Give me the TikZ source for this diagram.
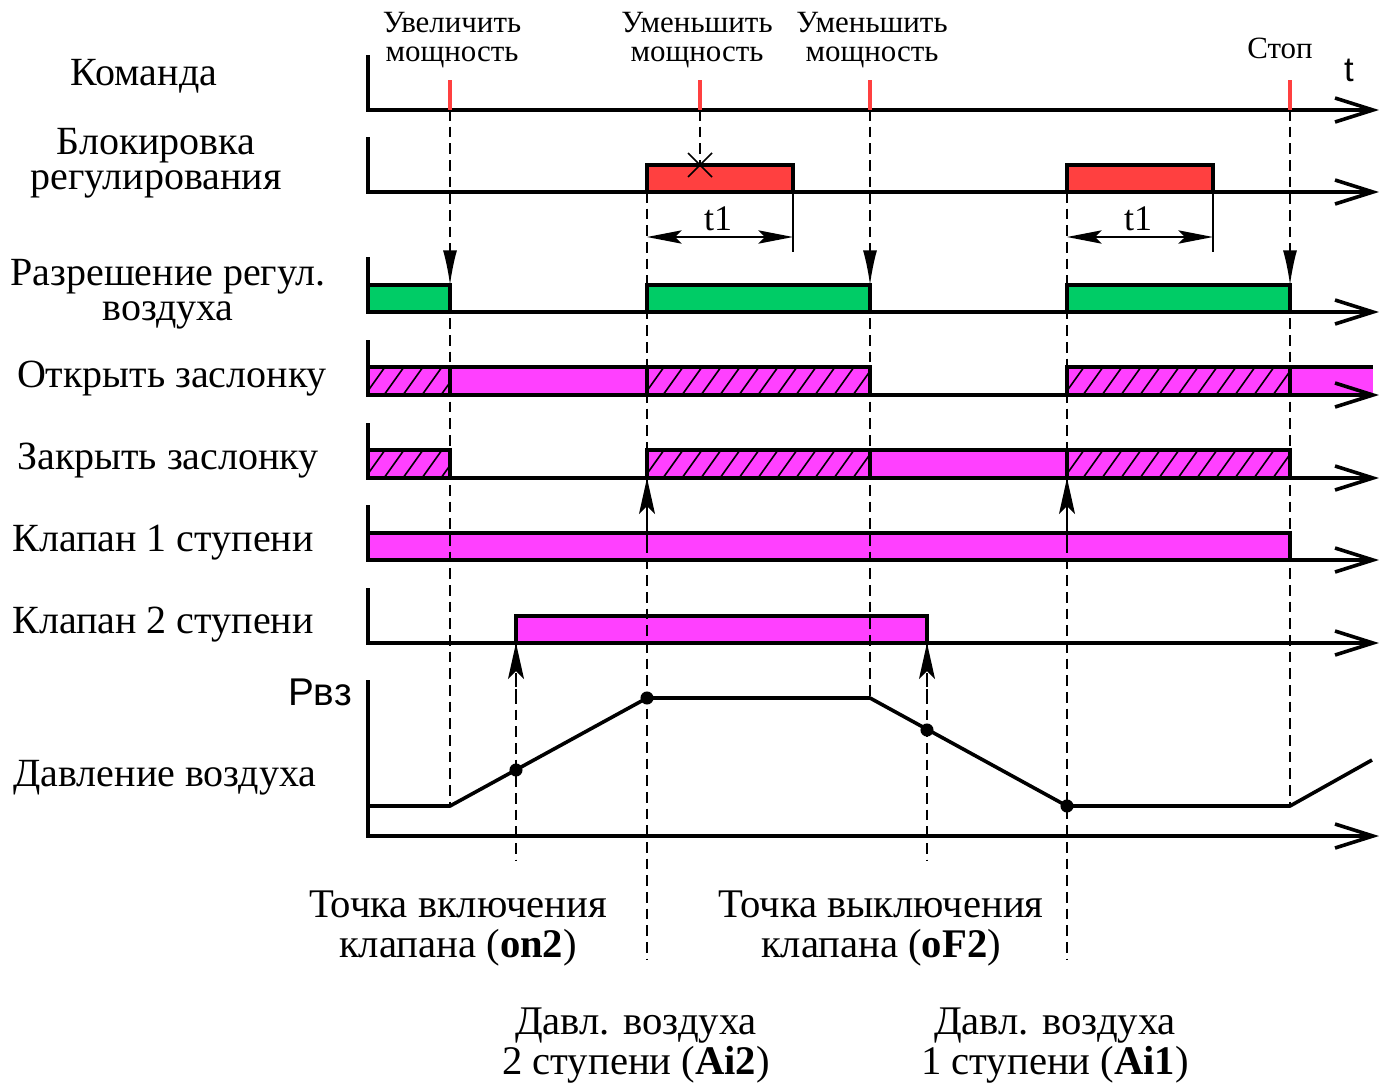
\documentclass[tikz,border=0pt]{standalone}
\usepackage{fontspec}
\setmainfont{Liberation Serif}
\newfontfamily\arialf{Liberation Sans}
\usetikzlibrary{arrows.meta}
\definecolor{barred}{HTML}{FF4040}
\definecolor{bargreen}{HTML}{00CC66}
\definecolor{barmag}{HTML}{FF40FF}
\newcommand\hatchseg[3]{% x1, x2, base
  \begin{scope}
    \clip (#1,#3) rectangle (#2,#3-28);
    \pgfmathtruncatemacro\nh{(#2-#1)/19+2}
    \foreach \k in {0,...,\nh} {
      \draw[hatchline] (#1-22+19*\k,#3) -- (#1-2+19*\k,#3-28);
    }
  \end{scope}}
\newcommand\axisrow[2]{% top, base
  \draw[axis] (368,#1) -- (368,#2) -- (1373,#2);
  \draw[axis] (1335,#2-12) -- (1373,#2) -- (1335,#2+12);}
\begin{document}
\begin{tikzpicture}[x=0.75pt,y=-0.75pt,
  axis/.style={line width=2.7pt, line join=miter, line cap=butt},
  barline/.style={line width=2.7pt},
  hatchline/.style={line width=1.2pt},
  guide/.style={line width=1.3pt, dash pattern=on 8pt off 4.5pt},
  thinline/.style={line width=1.25pt},
  lbl/.style={inner sep=0pt, align=center, font=\fontsize{30}{26.25}\selectfont},
  tlbl/.style={inner sep=0pt, font=\fontsize{27}{27}\selectfont},
  toplbl/.style={inner sep=0pt, align=center, font=\fontsize{23.2}{21.75}\selectfont},
  botlbl/.style={inner sep=0pt, align=center, font=\fontsize{30.5}{30}\selectfont},
  downtip/.style={-{Latex[length=26pt,width=10.5pt]}},
  uptip/.style={-{Stealth[length=27pt,width=12pt,inset=6pt]}},
  dimtip/.style={{Stealth[length=26pt,width=10pt,inset=5pt]}-{Stealth[length=26pt,width=10pt,inset=5pt]}}
]
\useasboundingbox (0,0) rectangle (1384,1086);

% ---------- bars: fills ----------
\fill[barred] (647,192) rectangle (793,165);
\fill[barred] (1067,192) rectangle (1213,165);
\fill[bargreen] (368,312) rectangle (450,285);
\fill[bargreen] (647,312) rectangle (870,285);
\fill[bargreen] (1067,312) rectangle (1290,285);
\fill[barmag] (368,395) rectangle (870,367);
\fill[barmag] (1067,395) rectangle (1373,367);
\fill[barmag] (368,478) rectangle (450,450);
\fill[barmag] (647,478) rectangle (1290,450);
\fill[barmag] (368,560) rectangle (1290,533);
\fill[barmag] (516,643) rectangle (927,616);

% ---------- hatching ----------
\hatchseg{368}{450}{395}
\hatchseg{647}{870}{395}
\hatchseg{1067}{1290}{395}
\hatchseg{368}{450}{478}
\hatchseg{647}{870}{478}
\hatchseg{1067}{1290}{478}

% ---------- bar outlines ----------
\draw[barline] (647,192) rectangle (793,165);
\draw[barline] (1067,192) rectangle (1213,165);
\draw[barline] (368,312) rectangle (450,285);
\draw[barline] (647,312) rectangle (870,285);
\draw[barline] (1067,312) rectangle (1290,285);
\draw[barline] (368,395) rectangle (450,367);
\draw[barline] (450,395) rectangle (647,367);
\draw[barline] (647,395) rectangle (870,367);
\draw[barline] (1067,395) rectangle (1290,367);
\draw[barline] (1290,367) -- (1373,367);
\draw[barline] (368,478) rectangle (450,450);
\draw[barline] (647,478) rectangle (870,450);
\draw[barline] (870,478) rectangle (1067,450);
\draw[barline] (1067,478) rectangle (1290,450);
\draw[barline] (368,560) rectangle (1290,533);
\draw[barline] (516,643) rectangle (927,616);

% ---------- axes ----------
\axisrow{55}{110}
\axisrow{137}{192}
\axisrow{257}{312}
\axisrow{340}{395}
\axisrow{423}{478}
\axisrow{505}{560}
\axisrow{588}{643}
\axisrow{680}{836}

% ---------- red command ticks ----------
\foreach \x in {450,700,870,1290}
  \draw[barred, line width=2.7pt] (\x,80) -- (\x,110);

% ---------- pressure curve ----------
\draw[axis, line join=round] (368,806) -- (450,806) -- (647,698) -- (870,698)
  -- (1067,806) -- (1290,806) -- (1372,760);
\foreach \p in {(516,770),(647,698),(927,730),(1067,806)}
  \fill \p circle[radius=4.9pt];

% ---------- guide lines ----------
\coordinate (g450) at (450,110);
\coordinate (g870) at (870,110);
\coordinate (g1290) at (1290,110);
\draw[guide, downtip] (g450) -- (450,285);
\draw[guide] (450,285) -- (450,806);
\draw[guide, downtip] (g870) -- (870,285);
\draw[guide] (870,285) -- (870,698);
\draw[guide, downtip] (g1290) -- (1290,285);
\draw[guide] (1290,285) -- (1290,806);
\draw[guide] (700,110) -- (700,165);
\draw[thinline] (688,153) -- (712,177) (688,177) -- (712,153);
\draw[guide] (647,192) -- (647,960);
\draw[guide, uptip] (647,545) -- (647,478);
\draw[guide] (1067,192) -- (1067,960);
\draw[guide, uptip] (1067,545) -- (1067,478);
\draw[guide] (516,643) -- (516,860);
\draw[guide, uptip] (516,700) -- (516,643);
\draw[guide] (927,643) -- (927,860);
\draw[guide, uptip] (927,700) -- (927,643);

% ---------- t1 dimensions ----------
\draw[thinline] (793,192) -- (793,252);
\draw[thinline] (1213,192) -- (1213,252);
\draw[thinline, dimtip] (647,237) -- (793,237);
\draw[thinline, dimtip] (1067,237) -- (1213,237);
\node[tlbl] (t1a) at (718,219) {t1};
\node[tlbl] (t1b) at (1138,219) {t1};

% ---------- left labels ----------
\node[lbl] (l1) at (144,76) {Команда};
\node[lbl] (l2) at (156,163) {Блокировка\\регулирования};
\node[lbl] (l3) at (168,294) {Разрешение регул.\\воздуха};
\node[lbl] (l4) at (172,379) {Открыть заслонку};
\node[lbl] (l5) at (168,461) {Закрыть заслонку};
\node[lbl] (l6) at (163,543) {Клапан 1 ступени};
\node[lbl] (l7) at (163,625) {Клапан 2 ступени};
\node[lbl] (l8) at (165,778) {Давление воздуха};
\node[inner sep=0pt, font=\arialf\fontsize{29}{29}\selectfont] (pvz) at (320,692) {Рвз};
\node[inner sep=0pt, font=\arialf\fontsize{26}{26}\selectfont] (tt) at (1349,70) {t};

% ---------- top labels ----------
\node[toplbl] (c1) at (452,40) {Увеличить\\мощность};
\node[toplbl] (c2) at (697,40) {Уменьшить\\мощность};
\node[toplbl] (c3) at (872,40) {Уменьшить\\мощность};
\node[toplbl] (c4) at (1280,48) {Стоп};

% ---------- bottom labels ----------
\node[botlbl] (b1) at (458,928) {Точка включения\\клапана (\textbf{on2})};
\node[botlbl] (b2) at (881,928) {Точка выключения\\клапана (\textbf{oF2})};
\node[botlbl] (b3) at (636,1046) {Давл. воздуха\\2 ступени (\textbf{Ai2})};
\node[botlbl] (b4) at (1055,1046) {Давл. воздуха\\1 ступени (\textbf{Ai1})};
\end{tikzpicture}
\end{document}
